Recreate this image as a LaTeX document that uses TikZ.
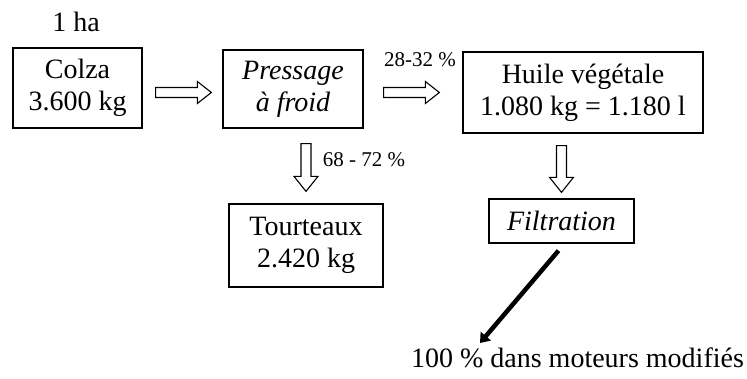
\documentclass[tikz,border=0pt]{standalone}
\usepackage{fontspec}
\setmainfont{Liberation Serif}
\usepackage{tikz}
\usetikzlibrary{calc, positioning, arrows.meta}

\begin{document}
\begin{tikzpicture}[x=1pt,y=1pt,
                    box node/.style={draw,line width=1.3pt,inner sep=0pt,align=center,font=\fontsize{28}{32}\selectfont},
                    pct node/.style={inner sep=0pt,font=\fontsize{21}{24}\selectfont},
                    harrow/.style={draw,line width=1.1pt,to path={let \p1=(\tikztostart), \p2=(\tikztotarget) in
                       (\x1,\y1+5pt) -- (\x2-14pt,\y1+5pt) -- (\x2-14pt,\y1+11pt) -- (\x2,\y1)
                       -- (\x2-14pt,\y1-11pt) -- (\x2-14pt,\y1-5pt) -- (\x1,\y1-5pt) -- cycle}},
                    varrow/.style={draw,line width=1.1pt,to path={let \p1=(\tikztostart), \p2=(\tikztotarget) in
                       (\x1-5pt,\y1) -- (\x1-5pt,\y2+15pt) -- (\x1-12pt,\y2+15pt) -- (\x1,\y2)
                       -- (\x1+12pt,\y2+15pt) -- (\x1+5pt,\y2+15pt) -- (\x1+5pt,\y1) -- cycle}}]
\useasboundingbox (0,0) rectangle (747,-378);

\node[inner sep=0pt,font=\fontsize{28}{32}\selectfont] (Ha) at (76,-22) {1 ha};

\node[box node,minimum width=129pt,minimum height=80pt] (Colza) at (77.5,-88) {Colza\\3.600 kg};
\node[box node,minimum width=140pt,minimum height=78pt] (Pressage) at (293,-89) {\itshape Pressage\\\itshape à froid};
\node[box node,minimum width=240pt,minimum height=81pt] (Huile) at (583,-92.5) {Huile végétale\\1.080 kg = 1.180 l};
\node[box node,minimum width=154pt,minimum height=83pt] (Tourteaux) at (306,-245.5) {Tourteaux\\2.420 kg};
\node[box node,minimum width=145pt,minimum height=44pt] (Filtration) at (561.5,-221) {\itshape Filtration};

\node[pct node] (PctHuile) at (420,-60) {28-32 \%};
\node[pct node] (PctTourteaux) at (364,-160) {68 - 72 \%};

\node[inner sep=0pt,font=\fontsize{28}{32}\selectfont] (Moteurs) at (577.5,-358) {100 \% dans moteurs modifiés};
\coordinate (MoteursTip) at (480,-343);

\draw[harrow] ($(Colza.east |- Huile.west)+(13pt,0)$) to ($(Pressage.west |- Huile.west)+(-11pt,0)$);
\draw[harrow] ($(Pressage.east |- Huile.west)+(20pt,0)$) to ($(Huile.west)+(-23pt,0)$);
\draw[varrow] ($(Pressage.south -| Tourteaux.north)+(0,-15pt)$) to ($(Tourteaux.north)+(0,12pt)$);
\draw[varrow] ($(Huile.south -| Filtration.north)+(0,-12pt)$) to ($(Filtration.north)+(0,6pt)$);

\draw[line width=4.5pt,-{Triangle[length=9pt,width=13pt]}] ($(Filtration.south)+(-3pt,-7pt)$) -- (MoteursTip);
\end{tikzpicture}
\end{document}
